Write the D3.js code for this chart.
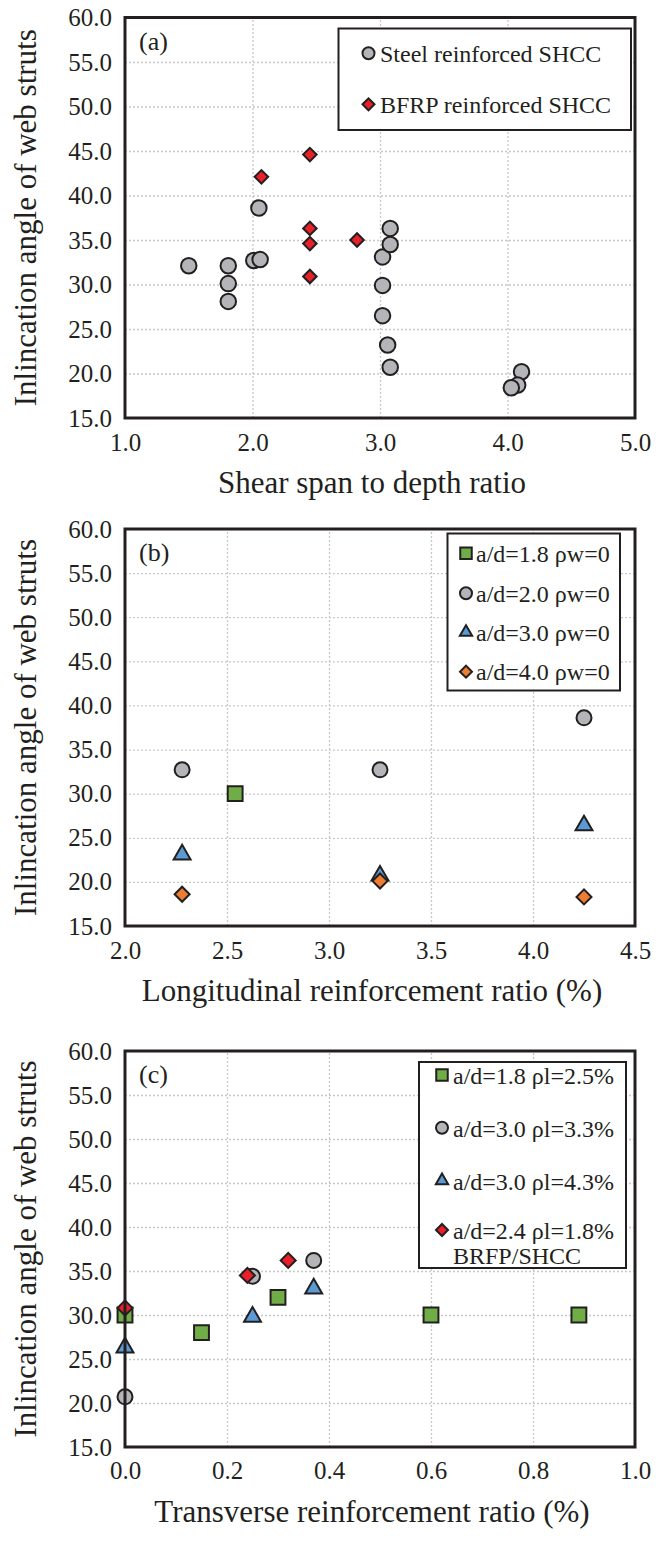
<!DOCTYPE html>
<html>
<head>
<meta charset="utf-8">
<script src="https://cdn.jsdelivr.net/npm/d3@7"></script>
<style>
body { margin: 0; background: #fff; }
svg text { font-family: "Liberation Serif", "Times New Roman", Times, serif !important; fill: #231f20; }
</style>
</head>
<body>
<div id="chart"></div>
<script>
// ---- data ----
// (a) angle vs shear span to depth ratio
const steelA = [[1.50,32.1],[1.81,32.1],[1.81,30.1],[1.81,28.1],[2.01,32.7],[2.06,32.8],[2.05,38.6],
  [3.02,33.1],[3.08,36.3],[3.08,34.5],[3.02,29.9],[3.02,26.5],[3.06,23.2],[3.08,20.7],
  [4.11,20.2],[4.08,18.7],[4.03,18.4]];
const bfrpA = [[2.07,42.1],[2.45,44.6],[2.45,36.3],[2.45,34.6],[2.45,30.9],[2.82,35.0]];

// (b) angle vs longitudinal reinforcement ratio
const ad18B = [[2.54,30.0]];
const ad20B = [[2.28,32.7],[3.25,32.7],[4.25,38.6]];
const ad30B = [[2.28,23.1],[3.25,20.7],[4.25,26.4]];
const ad40B = [[2.28,18.6],[3.25,20.1],[4.25,18.3]];

// (c) angle vs transverse reinforcement ratio
const ad18C = [[0.00,30.0],[0.15,28.0],[0.30,32.0],[0.60,30.0],[0.89,30.0]];
const ad30l33C = [[0.00,20.7],[0.25,34.4],[0.37,36.2]];
const ad30l43C = [[0.00,26.3],[0.25,29.8],[0.37,33.0]];
const ad24C = [[0.00,30.8],[0.24,34.5],[0.32,36.2]];

const yTicks = [15,20,25,30,35,40,45,50,55,60];
const xTicksA = [1,2,3,4,5];
const xTicksB = [2.0,2.5,3.0,3.5,4.0,4.5];
const xTicksC = [0,0.2,0.4,0.6,0.8,1.0];

const legendA = ["Steel reinforced SHCC", "BFRP reinforced SHCC"];
const legendB = ["a/d=1.8 ρw=0", "a/d=2.0 ρw=0", "a/d=3.0 ρw=0", "a/d=4.0 ρw=0"];
const legendC = ["a/d=1.8 ρl=2.5%", "a/d=3.0 ρl=3.3%", "a/d=3.0 ρl=4.3%", "a/d=2.4 ρl=1.8%"];

const ink = "#231f20";
const serif = '"Liberation Serif", "Times New Roman", Times, serif';
const gray = "#b3b5b8", red = "#e8202a", green = "#70ad47", blue = "#5b9bd5", orange = "#ed7d31";

const svg = d3.select("#chart").append("svg")
  .attr("width", 665)
  .attr("height", 1541)
  .attr("font-family", serif);

const left = 125, right = 635;

function symbolPath(shape, s) {
  // s ~ overall marker width in px
  if (shape == "circle") return d3.symbol().type(d3.symbolCircle).size(Math.PI * s * s / 4)();
  if (shape == "square") return d3.symbol().type(d3.symbolSquare).size(s * s * 0.92)();
  if (shape == "triangle") return d3.symbol().type(d3.symbolTriangle).size(Math.sqrt(3) / 4 * s * s * 1.05)();
  return d3.symbol().type(d3.symbolSquare).size(s * s / 2)(); // diamond, rotated below
}

function drawMarker(g, shape, fill, x, y, s) {
  g.append("path")
    .attr("d", symbolPath(shape, s))
    .attr("transform", "translate(" + x + "," + y + ")" + (shape == "diamond" ? " rotate(45)" : ""))
    .style("fill", fill)
    .style("stroke", ink)
    .style("stroke-width", 2);
}

function drawPanel(p) {
  const g = svg.append("g");
  const x = d3.scaleLinear().domain(p.xDomain).range([left, right]);
  const y = d3.scaleLinear().domain([15, 60]).range([p.bottom, p.top]);

  // grid
  g.append("g")
    .attr("transform", "translate(0," + p.bottom + ")")
    .call(d3.axisBottom(x).tickValues(p.xTicks.slice(1, -1)).tickSize(-(p.bottom - p.top)).tickFormat(""))
    .call(a => a.select(".domain").remove())
    .selectAll("line").style("stroke", "#c8c8c8").style("stroke-width", 1.3).style("stroke-dasharray", "2,2");
  g.append("g")
    .attr("transform", "translate(" + left + ",0)")
    .call(d3.axisLeft(y).tickValues(yTicks.slice(1, -1)).tickSize(-(right - left)).tickFormat(""))
    .call(a => a.select(".domain").remove())
    .selectAll("line").style("stroke", "#c8c8c8").style("stroke-width", 1.3).style("stroke-dasharray", "2,2");

  // tick labels
  const ax = g.append("g")
    .attr("transform", "translate(0," + p.bottom + ")")
    .call(d3.axisBottom(x).tickValues(p.xTicks).tickSize(0).tickPadding(p.xPad).tickFormat(d3.format(".1f")));
  ax.select(".domain").remove();
  ax.attr("font-family", serif).attr("font-size", 25);
  ax.selectAll("text").attr("font-family", serif).style("font-size", "25px").style("fill", ink);

  const ay = g.append("g")
    .attr("transform", "translate(" + left + ",0)")
    .call(d3.axisLeft(y).tickValues(yTicks).tickSize(0).tickPadding(13).tickFormat(d3.format(".1f")));
  ay.select(".domain").remove();
  ay.attr("font-family", serif).attr("font-size", 25);
  ay.selectAll("text").attr("font-family", serif).style("font-size", "25px").style("fill", ink);

  // axis titles
  g.append("text")
    .attr("x", (left + right) / 2 - 8)
    .attr("y", p.titleY)
    .attr("text-anchor", "middle")
    .style("font-size", "31px")
    .text(p.xTitle);
  g.append("text")
    .attr("transform", "translate(36," + ((p.top + p.bottom) / 2) + ") rotate(-90)")
    .attr("text-anchor", "middle")
    .style("font-size", "31px")
    .text("Inlincation angle of web struts");

  // points
  const pts = g.append("g");
  p.series.forEach(function(s) {
    s.data.forEach(function(d) {
      drawMarker(pts, s.shape, s.fill, x(d[0]), y(d[1]), s.size);
    });
  });

  // frame
  g.append("rect")
    .attr("x", left).attr("y", p.top)
    .attr("width", right - left).attr("height", p.bottom - p.top)
    .style("fill", "none").style("stroke", ink).style("stroke-width", 3);

  g.append("text")
    .attr("x", 139).attr("y", p.top + 32)
    .style("font-size", "26px")
    .text(p.label);

  // legend
  const L = p.legend;
  const lg = g.append("g");
  lg.append("rect")
    .attr("x", L.x0).attr("y", L.y0)
    .attr("width", L.x1 - L.x0).attr("height", L.y1 - L.y0)
    .style("fill", "#fff").style("stroke", ink).style("stroke-width", 2);
  L.labels.forEach(function(t, i) {
    const s = p.series[L.order[i]];
    drawMarker(lg, s.shape, s.fill, L.mx, L.ys[i], L.msize);
    lg.append("text")
      .attr("x", L.tx).attr("y", L.ys[i] + L.dy)
      .style("font-size", "24px")
      .text(t);
  });
  if (L.extra) {
    lg.append("text")
      .attr("x", L.tx).attr("y", L.extra.y)
      .style("font-size", "24px")
      .text(L.extra.text);
  }
}

drawPanel({
  top: 17.5, bottom: 418, xDomain: [1, 5], xTicks: xTicksA, label: "(a)", xPad: 15,
  xTitle: "Shear span to depth ratio", titleY: 493,
  series: [
    {data: steelA, shape: "circle", fill: gray, size: 15.5},
    {data: bfrpA, shape: "diamond", fill: red, size: 13.5}
  ],
  legend: {x0: 338.5, x1: 631, y0: 28.5, y1: 130, mx: 368.5, tx: 380, ys: [53.3, 104.3], dy: 8.5,
    msize: 12, labels: legendA, order: [0, 1]}
});

drawPanel({
  top: 529, bottom: 926, xDomain: [2, 4.5], xTicks: xTicksB, label: "(b)", xPad: 15,
  xTitle: "Longitudinal reinforcement ratio (%)", titleY: 1001,
  series: [
    {data: ad18B, shape: "square", fill: green, size: 15.5},
    {data: ad20B, shape: "circle", fill: gray, size: 15},
    {data: ad30B, shape: "triangle", fill: blue, size: 16.5},
    {data: ad40B, shape: "diamond", fill: orange, size: 15}
  ],
  legend: {x0: 447.5, x1: 620, y0: 533.5, y1: 690.5, mx: 466, tx: 476, ys: [553.3, 593.3, 632.3, 671.7], dy: 8.5,
    msize: 12, labels: legendB, order: [0, 1, 2, 3]}
});

drawPanel({
  top: 1051, bottom: 1447, xDomain: [0, 1], xTicks: xTicksC, label: "(c)", xPad: 14,
  xTitle: "Transverse reinforcement ratio (%)", titleY: 1522,
  series: [
    {data: ad18C, shape: "square", fill: green, size: 15.5},
    {data: ad30l33C, shape: "circle", fill: gray, size: 15},
    {data: ad30l43C, shape: "triangle", fill: blue, size: 16.5},
    {data: ad24C, shape: "diamond", fill: red, size: 15}
  ],
  legend: {x0: 419, x1: 626, y0: 1062, y1: 1268, mx: 442, tx: 453, ys: [1075, 1127.7, 1180.7, 1230], dy: 9,
    msize: 12, labels: legendC, order: [0, 1, 2, 3], extra: {text: "BRFP/SHCC", y: 1264}}
});
</script>
</body>
</html>
